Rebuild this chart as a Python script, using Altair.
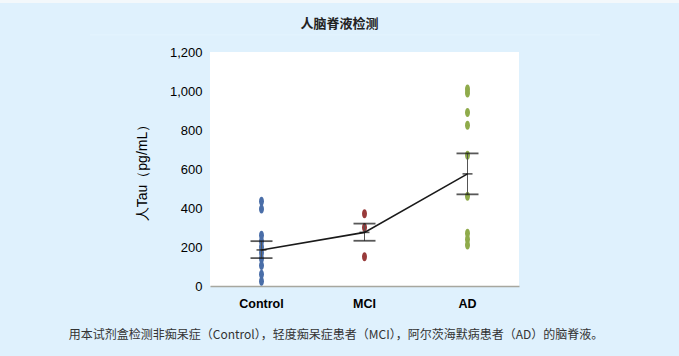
import altair as alt
import pandas as pd

cats = ["Control", "MCI", "AD"]
control_vals = [435, 395, 260, 230, 200, 170, 140, 105, 60, 25]
mci_vals = [370, 300, 150]
ad_vals = [1010, 990, 890, 825, 670, 460, 270, 240, 210]
means = [185, 275, 575]
upper = [230, 320, 680]
lower = [143, 232, 470]
colors = ["#4a6ea8", "#983a3a", "#8fab4b"]
y_ticks = [0, 200, 400, 600, 800, 1000, 1200]
title_text = "人脑脊液检测"
y_title = "人Tau（pg/mL）"
caption = "用本试剂盒检测非痴呆症（Control），轻度痴呆症患者（MCI），阿尔茨海默病患者（AD）的脑脊液。"

pts = pd.DataFrame(
    [{"group": "Control", "v": v} for v in control_vals]
    + [{"group": "MCI", "v": v} for v in mci_vals]
    + [{"group": "AD", "v": v} for v in ad_vals]
)
stats = pd.DataFrame({"group": cats, "mean": means, "lo": lower, "hi": upper})

xenc = alt.X(
    "group:N",
    sort=cats,
    scale=alt.Scale(type="band", domain=cats, paddingInner=0, paddingOuter=0),
    axis=alt.Axis(
        title=None, labelAngle=0, ticks=False, domainColor="#a7a79f", domainWidth=1.5,
        labelFont="Liberation Sans", labelFontSize=12.5, labelFontWeight="bold",
        labelColor="#000000", labelPadding=11,
    ),
)
yscale = alt.Scale(domain=[0, 1200], nice=False)
yaxis = alt.Axis(
    values=y_ticks, format=",.0f", grid=False, domain=False, ticks=False, labelOverlap=False,
    labelFont="Liberation Sans", labelFontSize=13, labelColor="#000000", labelPadding=8,
    title=y_title, titleFont="Liberation Sans", titleFontSize=14, titleFontWeight="normal",
    titleColor="#000000", titlePadding=20,
)


def Y(field):
    return alt.Y(field, scale=yscale, axis=yaxis)


ellipse = "M-0.55,0 A0.55,1 0 1,0 0.55,0 A0.55,1 0 1,0 -0.55,0 Z"

points = alt.Chart(pts).mark_point(shape=ellipse, filled=True, size=81, opacity=1).encode(
    x=xenc,
    y=Y("v:Q"),
    color=alt.Color("group:N", scale=alt.Scale(domain=cats, range=colors), legend=None),
)

vbar = alt.Chart(stats).mark_rule(color="#555555", strokeWidth=1).encode(
    x=xenc, y=Y("lo:Q"), y2="hi:Q"
)
cap_hi = alt.Chart(stats).mark_tick(color="#111111", size=22, thickness=1.8).encode(
    x=xenc, y=Y("hi:Q")
)
cap_lo = alt.Chart(stats).mark_tick(color="#111111", size=22, thickness=1.8).encode(
    x=xenc, y=Y("lo:Q")
)
mean_tick = alt.Chart(stats).mark_tick(color="#111111", size=10, thickness=1.6).encode(
    x=xenc, y=Y("mean:Q")
)
line = alt.Chart(stats).mark_line(color="#1a1a1a", strokeWidth=1.6).encode(
    x=xenc, y=Y("mean:Q")
)

cap_df = pd.DataFrame({"t": [caption]})
cap_text = alt.Chart(cap_df).mark_text(
    font="Noto Sans CJK SC", fontSize=12, color="#333333", align="center", baseline="middle"
).encode(text="t:N", x=alt.value(126), y=alt.value(283))

title_df = pd.DataFrame({"t": [title_text]})
title_mark = alt.Chart(title_df).mark_text(
    font="Noto Sans CJK SC", fontSize=13, fontWeight="bold", color="#222222",
    align="center", baseline="middle",
).encode(text="t:N", x=alt.value(129.5), y=alt.value(-28))

top_strip = alt.Chart(title_df).mark_rule(color="#f3f8fb", strokeWidth=3).encode(
    x=alt.value(-210), x2=alt.value(469), y=alt.value(-50.5)
)
sep_line = alt.Chart(title_df).mark_rule(color="#e4f4fe", strokeWidth=1).encode(
    x=alt.value(-120), x2=alt.value(390), y=alt.value(-17)
)

chart = alt.layer(
    top_strip, sep_line, title_mark, points, vbar, cap_hi, cap_lo, line, mean_tick, cap_text
).properties(
    width=309, height=234,
    autosize=alt.AutoSizeParams(type="none"),
    padding={"left": 210, "top": 52, "right": 160, "bottom": 70},
    background="#dff1fd",
).configure_view(fill="#ffffff", stroke=None).configure_axisY(labelOverlap=False)

chart.save("out.html", embed_options={"renderer": "svg", "actions": False})
